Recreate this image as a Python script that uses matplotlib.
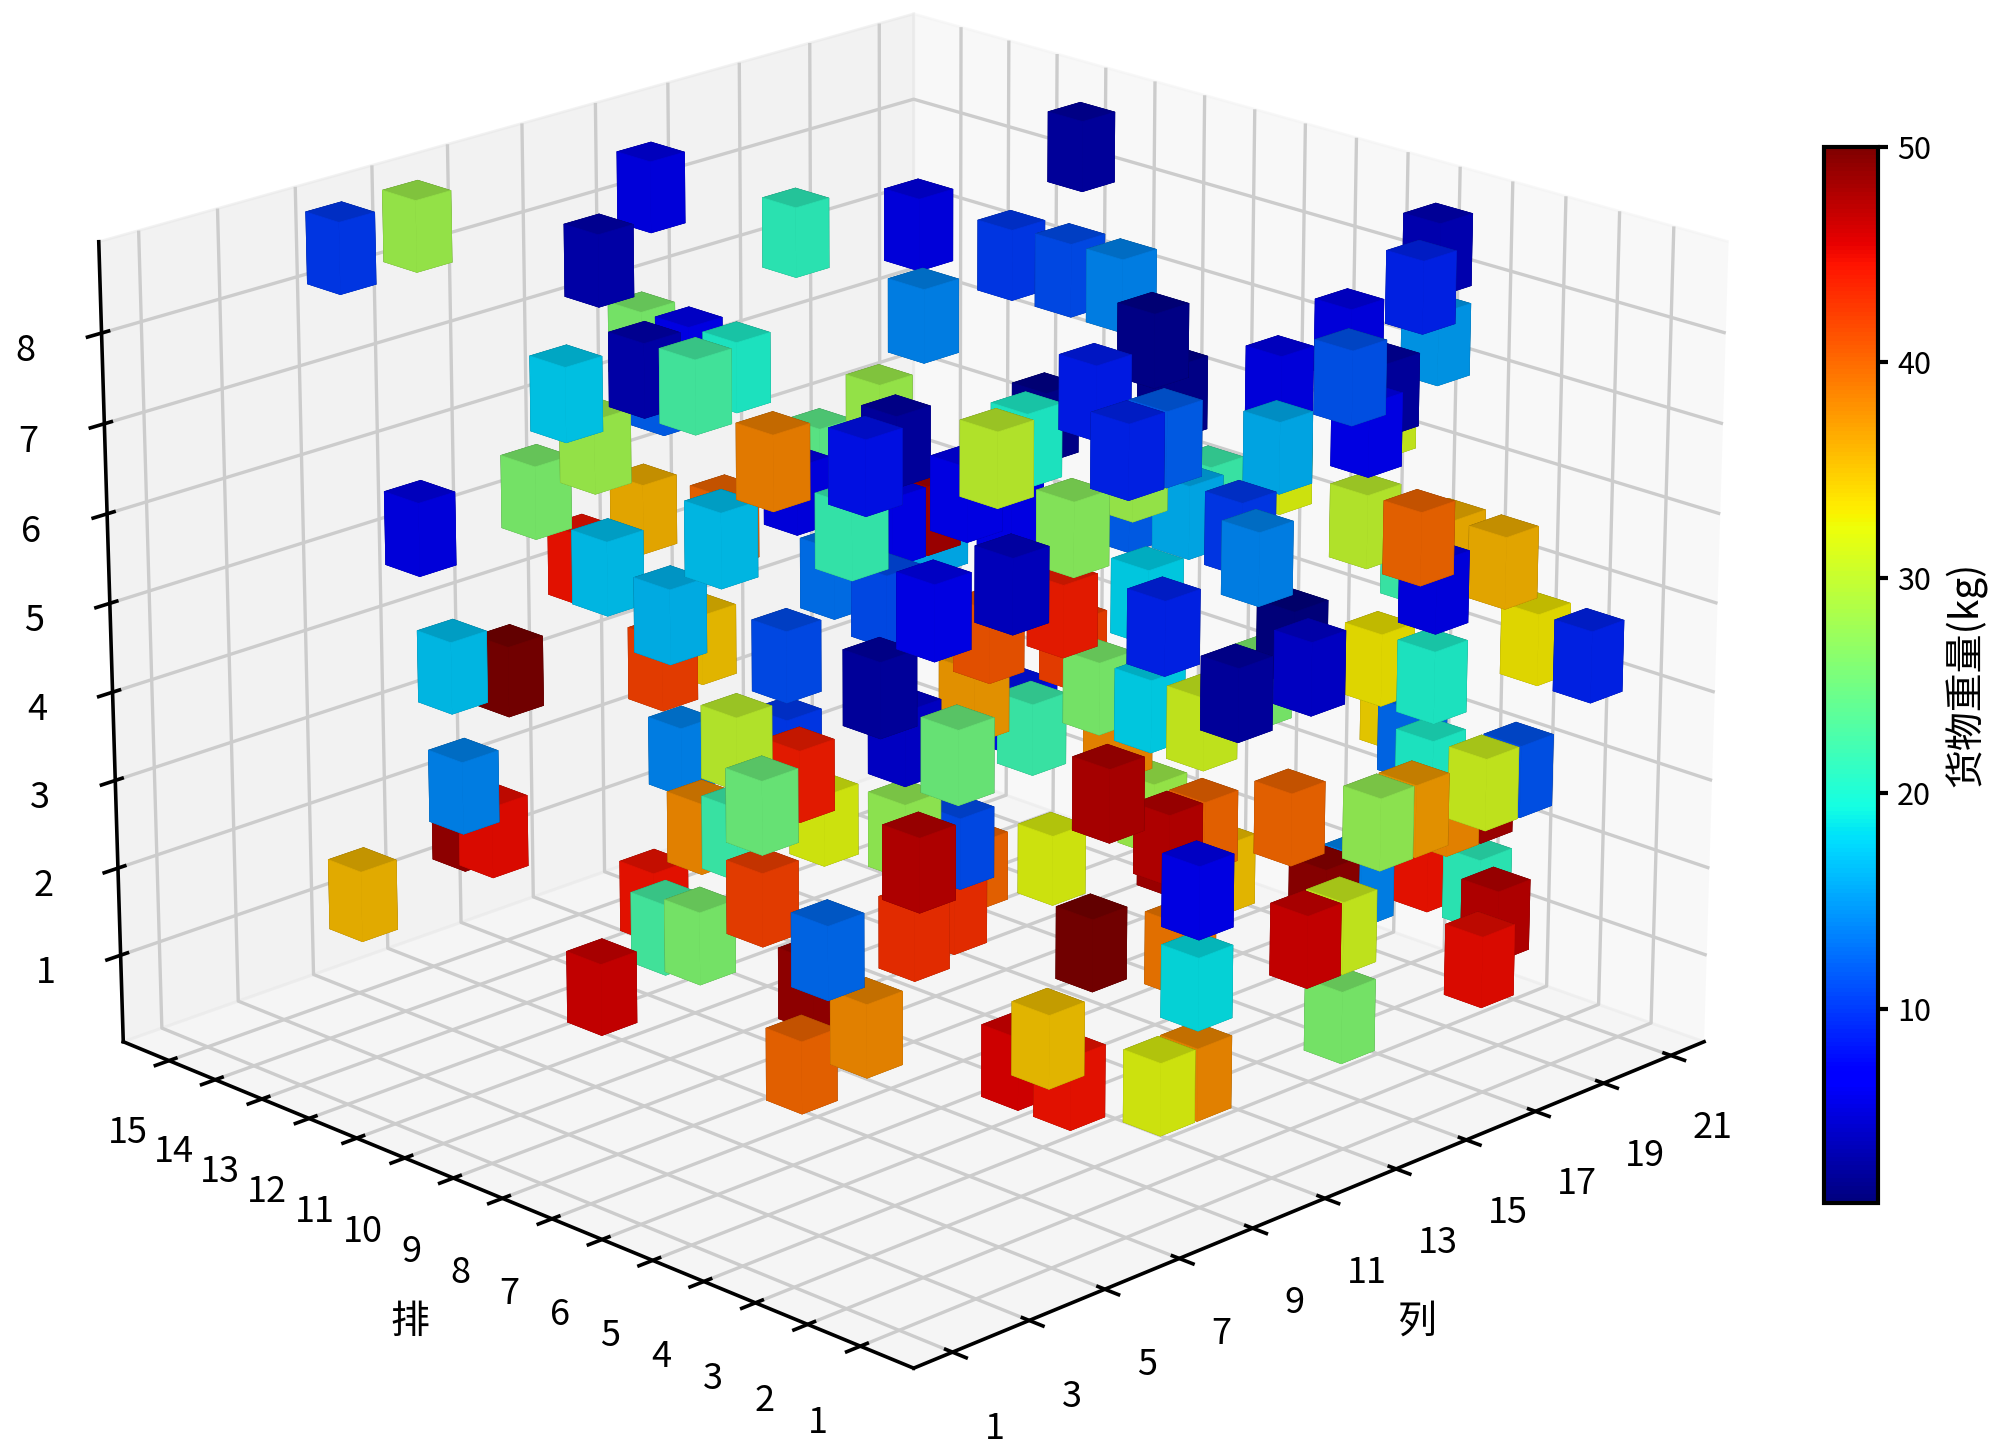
# coding: utf-8
"""
3D warehouse chart: one box per stored item, coloured by weight.
"""

import matplotlib
matplotlib.use("Agg")
import matplotlib.pyplot as plt
import numpy as np
from matplotlib import cm, colors as mcolors
from mpl_toolkits.mplot3d import proj3d

# column, row, layer and weight of every box
columns = [
    5, 7, 12, 8, 16, 14, 20, 10, 18, 14, 14, 12, 14, 20, 18,
    20, 13, 19, 20, 15, 17, 17, 2, 4, 4, 4, 13, 13, 13, 11,
    5, 2, 13, 10, 2, 2, 3, 10, 2, 7, 12, 4, 8, 9, 3,
    5, 8, 4, 14, 5, 8, 3, 8, 5, 10, 8, 7, 4, 3, 4,
    2, 7, 3, 4, 7, 3, 15, 11, 17, 4, 4, 2, 4, 13, 2,
    4, 9, 13, 4, 3, 12, 16, 18, 17, 16, 7, 5, 10, 19, 7,
    7, 9, 8, 20, 13, 13, 12, 18, 15, 15, 19, 19, 17, 18, 20,
    20, 8, 9, 11, 17, 9, 10, 12, 12, 12, 10, 12, 13, 18, 17,
    17, 19, 18, 17, 18, 17, 14, 15, 19, 20, 13, 20, 15, 14, 13,
    12, 13, 20, 19, 17, 9, 17, 15, 14, 17, 8, 15, 15, 9, 10,
    9, 5, 7, 7, 8, 9, 20, 20, 10, 17, 20, 17, 14, 9, 18,
]
rows = [
    15, 15, 14, 12, 14, 10, 11, 7, 11, 7, 6, 4, 5, 4, 3,
    4, 1, 5, 7, 2, 3, 5, 8, 9, 8, 7, 15, 14, 13, 13,
    11, 11, 15, 11, 5, 4, 8, 14, 6, 10, 13, 12, 14, 9, 11,
    12, 15, 14, 15, 7, 8, 5, 10, 7, 9, 11, 10, 7, 5, 9,
    3, 7, 3, 5, 5, 2, 10, 7, 11, 3, 2, 2, 3, 7, 1,
    1, 7, 11, 4, 3, 9, 12, 15, 13, 14, 4, 2, 5, 11, 2,
    1, 3, 1, 10, 4, 3, 2, 7, 2, 1, 3, 2, 2, 3, 2,
    1, 1, 2, 5, 9, 5, 6, 5, 4, 3, 1, 1, 2, 6, 3,
    2, 4, 3, 2, 1, 1, 1, 1, 3, 3, 2, 4, 2, 2, 1,
    1, 1, 3, 2, 1, 1, 6, 5, 5, 7, 2, 6, 8, 3, 2,
    1, 1, 3, 2, 1, 1, 5, 7, 3, 12, 14, 10, 6, 9, 11,
]
layers = [
    8, 8, 8, 8, 7, 8, 8, 8, 7, 8, 8, 8, 7, 8, 8,
    7, 8, 7, 6, 7, 7, 6, 8, 7, 8, 8, 6, 6, 6, 6,
    6, 6, 4, 5, 7, 8, 6, 4, 6, 4, 3, 4, 3, 4, 3,
    2, 1, 1, 1, 4, 3, 4, 2, 3, 2, 1, 1, 2, 3, 1,
    3, 1, 2, 1, 2, 4, 0, 2, 0, 4, 5, 6, 5, 3, 7,
    7, 5, 4, 7, 8, 6, 4, 4, 5, 4, 7, 8, 7, 5, 7,
    8, 8, 8, 4, 6, 6, 6, 5, 6, 6, 5, 5, 5, 5, 4,
    4, 6, 6, 5, 3, 5, 4, 4, 4, 4, 5, 5, 5, 3, 4,
    4, 3, 3, 3, 3, 3, 3, 3, 2, 2, 3, 1, 2, 2, 2,
    2, 1, 1, 1, 1, 3, 1, 2, 2, 1, 4, 2, 1, 2, 2,
    2, 2, 1, 1, 1, 1, 6, 5, 7, 4, 3, 2, 3, 3, 4,
]
weights = [
    10, 28, 6, 3.5, 21, 6, 3, 14, 10, 11, 14, 2, 2, 4, 9,
    15, 11.5, 6, 6, 7, 3, 16, 17.5, 28, 3.5, 22.5, 26, 7, 20, 12,
    26, 6, 36, 40, 17, 38.5, 17, 44.5, 16.5, 42, 35, 17, 50, 11, 14,
    45, 48.5, 35.5, 14, 30, 44, 25, 38, 22, 32, 44.5, 22.5, 26, 42, 46,
    12.5, 48.5, 38, 40, 43, 47, 43, 11, 40, 27.5, 25, 3, 5, 22, 6.5,
    4.5, 11, 13, 21.5, 8, 3, 7, 24, 28, 6, 6.5, 30, 20, 2, 27,
    9, 8.5, 12, 12, 16, 10, 14, 22, 30, 40, 36, 36, 6, 22, 33,
    9, 9, 18, 44, 42, 41, 37, 26, 18, 31, 3, 5, 1.5, 26, 33,
    20, 34, 12.5, 20, 11.5, 31, 27.5, 37, 38, 48, 40, 44.5, 14, 49, 31,
    46, 26, 21, 47, 45, 6.5, 35, 40, 47, 48, 47.5, 28, 32, 50, 39,
    18.5, 35, 45.5, 44.5, 32, 38, 31, 32, 28, 48, 16, 8, 38, 10, 7,
]
column_ticks = list(range(1, 22, 2))
row_ticks = list(range(1, 16))
layer_ticks = list(range(1, 9))
weight_ticks = [10, 20, 30, 40, 50]

plt.rcParams['font.family'] = ['Noto Sans CJK SC', 'DejaVu Sans']
plt.rcParams['axes.linewidth'] = 1.3
plt.rcParams['xtick.major.width'] = 1.3
plt.rcParams['ytick.major.width'] = 1.3

FIG_W, FIG_H = 2000, 1455
fig = plt.figure(figsize=(10, 7.275), dpi=200)
ax = fig.add_axes([0.1, 0.1, 0.7, 0.96], projection='3d')
ax.set_xlim(0, 22)
ax.set_ylim(0, 16)
ax.set_zlim(0, 9)
ax.view_init(elev=20, azim=-135)
ax.set_box_aspect((4, 4, 3))

# place the axes so that the box corners land where they should in pixels
xl, yl, zl = ax.get_xlim(), ax.get_ylim(), ax.get_zlim()
corners = [((0, 0, 0), (913, 1371)), ((1, 0, 0), (1705, 1040)), ((0, 1, 0), (125, 1043)),
           ((0, 1, 1), (99, 242)), ((1, 0, 1), (1727, 236)), ((1, 1, 1), (913, 17))]
proj = ax.get_proj()
view, pixels = [], []
for (i, j, k), (px, py) in corners:
    a, b, _ = proj3d.proj_transform(xl[i], yl[j], zl[k], proj)
    view.append((a, b))
    pixels.append((px, FIG_H - py))
view, pixels = np.array(view, float), np.array(pixels, float)
vm, pm = view.mean(0), pixels.mean(0)
s = ((view - vm) * (pixels - pm)).sum() / ((view - vm) ** 2).sum()
vx, vy = ax.viewLim.intervalx, ax.viewLim.intervaly
ax.set_position([
    (pm[0] + s * (vx[0] - vm[0])) / FIG_W,
    (pm[1] + s * (vy[0] - vm[1])) / FIG_H,
    s * (vx[1] - vx[0]) / FIG_W,
    s * (vy[1] - vy[0]) / FIG_H,
])

norm = mcolors.Normalize(1, 50)
dx, dy, dz = 0.93, 0.7, 0.8
bars = ax.bar3d(
    np.array(columns) + 0.3 - dx / 2,
    np.array(rows) + 0.3 - dy / 2,
    np.array(layers),
    dx, dy, dz,
    color=plt.cm.jet(norm(weights)),
)
# same colour on the edges, otherwise a light seam shows between the faces
bars.set_edgecolor(bars._facecolor3d)
bars.set_linewidth(0.25)

ax.set_xticks(column_ticks)
ax.set_yticks(row_ticks)
ax.set_zticks(layer_ticks)
ax.tick_params(axis='x', labelsize=13, pad=8.5)
ax.tick_params(axis='y', labelsize=13, pad=8.5)
ax.tick_params(axis='z', labelsize=13, pad=7.5)
ax.set_xlabel('列', fontsize=14, labelpad=15)
ax.set_ylabel('排', fontsize=14, labelpad=15)
for axis in (ax.xaxis, ax.yaxis, ax.zaxis):
    axis._axinfo['grid']['linewidth'] = 1.2
    axis._axinfo['grid']['color'] = '#cccccc'
    axis.line.set_color('black')

cax = fig.add_axes([0.912, 0.1735, 0.0268, 0.7257])
cb = fig.colorbar(cm.ScalarMappable(norm=norm, cmap='jet'), cax=cax)
cb.set_ticks(weight_ticks)
cb.ax.tick_params(labelsize=11, width=1.5)
cb.outline.set_linewidth(1.5)
cb.set_label('货物重量(kg)', fontsize=14, labelpad=5)

fig.savefig('out.png', dpi=200)
